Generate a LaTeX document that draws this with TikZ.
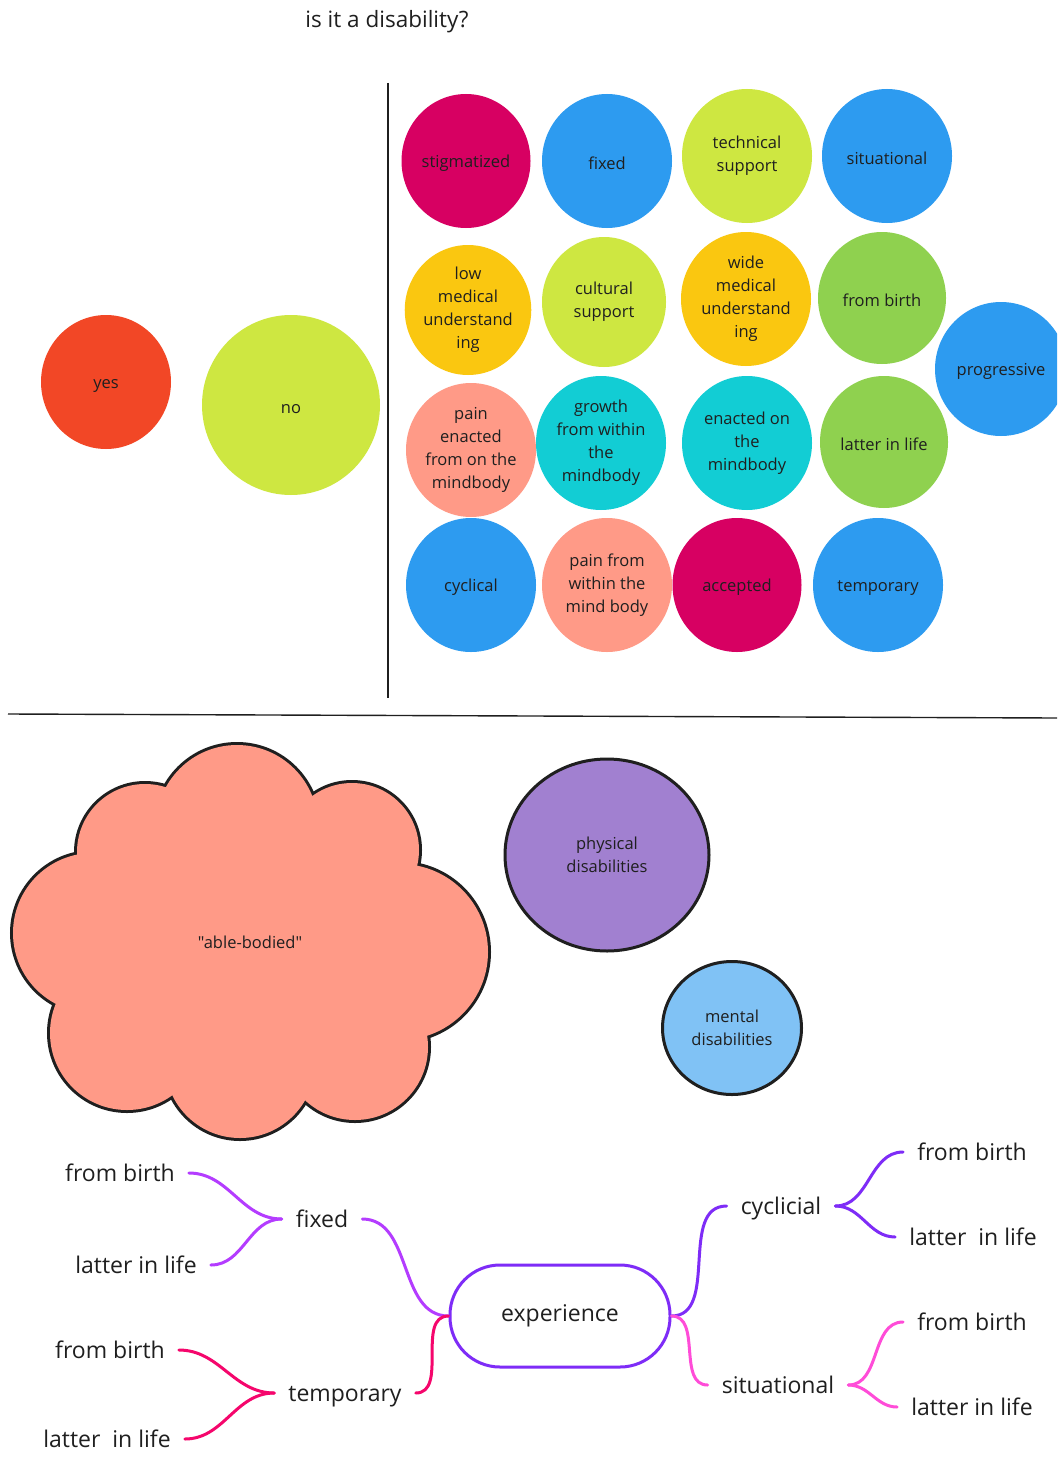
\documentclass[tikz,border=0pt]{standalone}
\usepackage{fontspec}
\setmainfont{Open Sans}[Ligatures=TeXOff]
\usetikzlibrary{shapes.geometric}

\definecolor{ink}{HTML}{1F1F1F}
\definecolor{cMagenta}{HTML}{D70062}
\definecolor{cBlue}{HTML}{2D9BF0}
\definecolor{cLime}{HTML}{CEE741}
\definecolor{cYellow}{HTML}{FAC710}
\definecolor{cGreen}{HTML}{8FD14F}
\definecolor{cSalmon}{HTML}{FF9A87}
\definecolor{cCyan}{HTML}{12CDD4}
\definecolor{cRed}{HTML}{F24726}
\definecolor{cPurple}{HTML}{A180D0}
\definecolor{cSky}{HTML}{80C2F5}
\definecolor{brViolet}{HTML}{7E2CF7}
\definecolor{brLilac}{HTML}{B43CFF}
\definecolor{brCrimson}{HTML}{F5066C}
\definecolor{brPink}{HTML}{FF4CD8}

\begin{document}
\begin{tikzpicture}[x=1pt,y=-1pt,
  bubble/.style={ellipse, inner sep=0pt, text=ink, align=center,
    font=\fontsize{16.5}{23}\selectfont,
    execute at begin node={\rule{0pt}{16.5pt}}},
  outlined/.style={ellipse, inner sep=0pt, text=ink, align=center,
    draw=ink, line width=3pt, font=\fontsize{16.5}{23}\selectfont},
  mmtext/.style={text=ink, inner xsep=14pt, inner ysep=0pt,
    text height=20pt, text depth=4pt, font=\fontsize{23}{27}\selectfont},
  rule/.style={draw=ink, line width=1.4pt},
  branch/.style={line width=3pt, line cap=round}
]
\clip (0,0) rectangle (1057,1461);
\fill[white] (0,0) rectangle (1057,1461);

% title
\node[text=ink, font=\fontsize{22.5}{27}\selectfont] (title) at (387,22) {is it a disability?};

% dividers
\coordinate (vtop) at (388,83);
\coordinate (vbot) at (388,698);
\coordinate (hl) at (8,714);
\coordinate (hr) at (1057,718);
\draw[rule] (vtop) -- (vbot);
\draw[rule] (hl) -- (hr);

% yes / no
\node[bubble, fill=cRed, minimum width=130, minimum height=134] (yes) at (106,382) {yes};
\node[bubble, fill=cLime, minimum width=178, minimum height=180] (no) at (291,405) {no};

% qualities
\node[bubble, fill=cMagenta, minimum width=129, minimum height=134] (stig) at (466,161) {stigmatized};
\node[bubble, fill=cBlue, minimum width=130, minimum height=134] (fixedq) at (607,161) {fixed};
\node[bubble, fill=cLime, minimum width=130, minimum height=134] (tech) at (747,156) {technical\\support};
\node[bubble, fill=cBlue, minimum width=130, minimum height=134] (situ) at (887,156) {situational};

\node[bubble, fill=cYellow, minimum width=125, minimum height=130] (lowmed) at (468,310) {low\\medical\\understand\\ing};
\node[bubble, fill=cLime, minimum width=124, minimum height=130] (cult) at (604,302) {cultural\\support};
\node[bubble, fill=cYellow, minimum width=130, minimum height=134] (widemed) at (746,299) {wide\\medical\\understand\\ing};
\node[bubble, fill=cGreen, minimum width=128, minimum height=132] (birth) at (882,298) {from birth};
\node[bubble, fill=cBlue, minimum width=132, minimum height=134] (prog) at (1001,369) {progressive};

\node[bubble, fill=cSalmon, minimum width=130, minimum height=134] (painon) at (471,450) {pain\\enacted\\from on the\\mindbody};
\node[bubble, fill=cCyan, minimum width=130, minimum height=134] (growth) at (601,443) {growth\\from within\\the\\mindbody};
\node[bubble, fill=cCyan, minimum width=130, minimum height=134] (enacted) at (747,443) {enacted on\\the\\mindbody};
\node[bubble, fill=cGreen, minimum width=128, minimum height=132] (latter) at (884,442) {latter in life};

\node[bubble, fill=cBlue, minimum width=130, minimum height=134] (cyc) at (471,585) {cyclical};
\node[bubble, fill=cSalmon, minimum width=130, minimum height=134] (painwithin) at (607,585) {pain from\\within the\\mind body};
\node[bubble, fill=cMagenta, minimum width=129, minimum height=134] (acc) at (737,585) {accepted};
\node[bubble, fill=cBlue, minimum width=130, minimum height=134] (tempq) at (878,585) {temporary};

% cloud: outline of overlapping scallops, then fill over the inner strokes
\def\scallops{
  (237,826) circle[radius=81]
  (352,850) circle[radius=67]
  (400,952) circle[radius=88]
  (355,1047) circle[radius=73]
  (240,1063) circle[radius=75]
  (127,1033) circle[radius=77]
  (93,933) circle[radius=80]
  (145,852) circle[radius=68]}
\draw[ink, line width=6pt] \scallops;
\fill[cSalmon] \scallops;
\fill[cSalmon] (237,826) -- (352,850) -- (400,952) -- (355,1047) -- (240,1063)
  -- (127,1033) -- (93,933) -- (145,852) -- cycle;
\node[text=ink, font=\fontsize{16.5}{23}\selectfont] (able) at (250,942) {"able-bodied"};

% disability groups
\node[outlined, fill=cPurple, minimum width=204, minimum height=192] (phys) at (607,855) {physical\\disabilities};
\node[outlined, fill=cSky, minimum width=139, minimum height=133] (ment) at (732,1028) {mental\\disabilities};

% experience map
\node[draw=brViolet, line width=3pt, rounded corners=50pt, minimum width=220, minimum height=102,
  text=ink, font=\fontsize{23}{27}\selectfont] (exp) at (560,1316) {experience};

\node[mmtext] (fx) at (322,1219) {fixed};
\node[mmtext] (fxb) at (120,1173) {from birth};
\node[mmtext] (fxl) at (136,1265) {latter in life};

\node[mmtext] (tp) at (345,1393) {temporary};
\node[mmtext] (tpb) at (110,1350) {from birth};
\node[mmtext] (tpl) at (107,1439) {latter~ in life};

\node[mmtext] (cy) at (781,1206) {cyclicial};
\node[mmtext] (cyb) at (972,1152) {from birth};
\node[mmtext] (cyl) at (973,1237) {latter~ in life};

\node[mmtext] (st) at (778,1385) {situational};
\node[mmtext] (stb) at (972,1322) {from birth};
\node[mmtext] (stl) at (972,1407) {latter in life};

\draw[branch, brLilac] (exp.west) to[out=180,in=0] (fx.east);
\draw[branch, brLilac] (fx.west) to[out=180,in=0] (fxb.east);
\draw[branch, brLilac] (fx.west) to[out=180,in=0] (fxl.east);

\draw[branch, brCrimson] (exp.west) to[out=180,in=0] (tp.east);
\draw[branch, brCrimson] (tp.west) to[out=180,in=0] (tpb.east);
\draw[branch, brCrimson] (tp.west) to[out=180,in=0] (tpl.east);

\draw[branch, brViolet] (exp.east) to[out=0,in=180] (cy.west);
\draw[branch, brViolet] (cy.east) to[out=0,in=180] (cyb.west);
\draw[branch, brViolet] (cy.east) to[out=0,in=180] (cyl.west);

\draw[branch, brPink] (exp.east) to[out=0,in=180] (st.west);
\draw[branch, brPink] (st.east) to[out=0,in=180] (stb.west);
\draw[branch, brPink] (st.east) to[out=0,in=180] (stl.west);
\end{tikzpicture}
\end{document}
